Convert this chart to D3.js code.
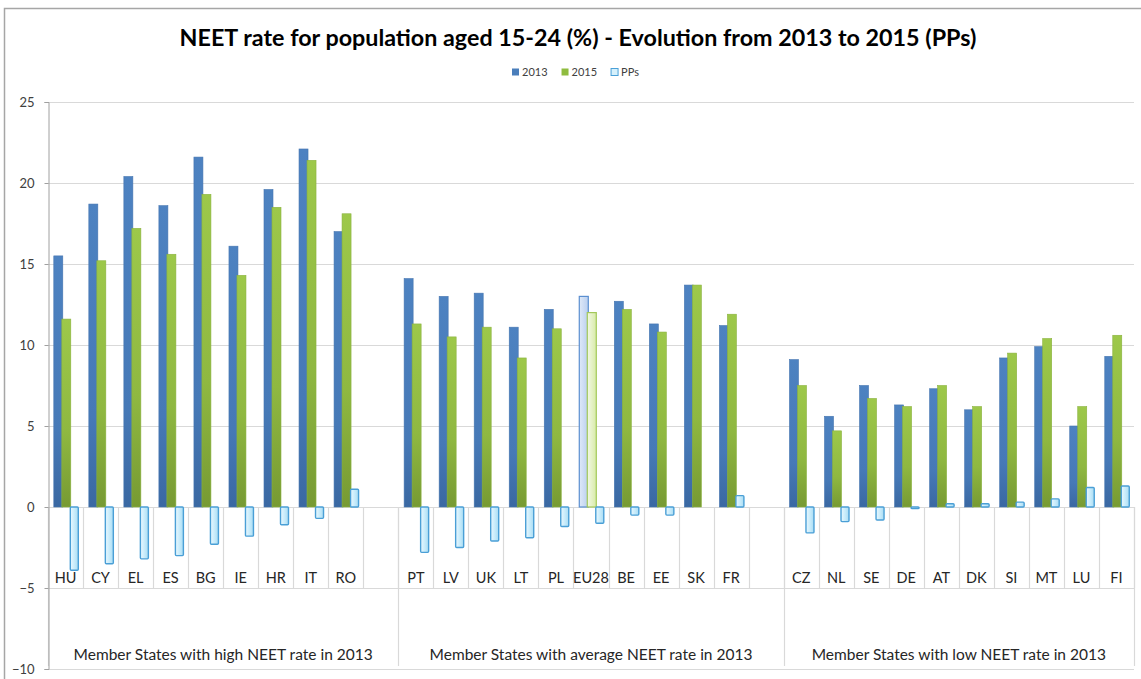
<!DOCTYPE html>
<html>
<head>
<meta charset="utf-8">
<script src="https://cdn.jsdelivr.net/npm/d3@7"></script>
<style>
  html, body { margin: 0; padding: 0; background: #fff; }
  svg { display: block; font-family: Lato, "Open Sans", sans-serif; }
</style>
</head>
<body>
<svg id="chart" width="1141" height="679"></svg>
<script>
// NEET rate (15-24) by Member State, 2013 vs 2015, with change in percentage points
const title = "NEET rate for population aged 15-24 (%) - Evolution from 2013 to 2015 (PPs)";
const seriesNames = ["2013", "2015", "PPs"];
const groupNames = [
  "Member States with high NEET rate in 2013",
  "Member States with average NEET rate in 2013",
  "Member States with low NEET rate in 2013"
];
const groupSizes = [9, 10, 10];
const countries = ["HU","CY","EL","ES","BG","IE","HR","IT","RO",
                   "PT","LV","UK","LT","PL","EU28","BE","EE","SK","FR",
                   "CZ","NL","SE","DE","AT","DK","SI","MT","LU","FI"];
const rate2013 = [15.5,18.7,20.4,18.6,21.6,16.1,19.6,22.1,17.0,
                  14.1,13.0,13.2,11.1,12.2,13.0,12.7,11.3,13.7,11.2,
                  9.1,5.6,7.5,6.3,7.3,6.0,9.2,9.9,5.0,9.3];
const rate2015 = [11.6,15.2,17.2,15.6,19.3,14.3,18.5,21.4,18.1,
                  11.3,10.5,11.1,9.2,11.0,12.0,12.2,10.8,13.7,11.9,
                  7.5,4.7,6.7,6.2,7.5,6.2,9.5,10.4,6.2,10.6];
const changePP = [-3.9,-3.5,-3.2,-3.0,-2.3,-1.8,-1.1,-0.7,1.1,
                  -2.8,-2.5,-2.1,-1.9,-1.2,-1.0,-0.5,-0.5,0.0,0.7,
                  -1.6,-0.9,-0.8,-0.1,0.2,0.2,0.3,0.5,1.2,1.3];
const yTicks = [-10, -5, 0, 5, 10, 15, 20, 25];
const highlight = "EU28";

const svg = d3.select("#chart");
const defs = svg.append("defs");

// Gradients giving the bars their shaded look
function vGrad(id, stops) {
  const g = defs.append("linearGradient").attr("id", id)
    .attr("x1", 0).attr("y1", 0).attr("x2", 0).attr("y2", 1);
  stops.forEach(s => g.append("stop").attr("offset", s[0]).attr("stop-color", s[1]));
}
function hGrad(id, stops) {
  const g = defs.append("linearGradient").attr("id", id)
    .attr("x1", 0).attr("y1", 0).attr("x2", 1).attr("y2", 0);
  stops.forEach(s => g.append("stop").attr("offset", s[0]).attr("stop-color", s[1]));
}
vGrad("g2013", [[0, "#4d82c1"], [0.7, "#4679b7"], [1, "#3a68a2"]]);
vGrad("g2015", [[0, "#9dc84a"], [0.6, "#8fb841"], [1, "#779a33"]]);
hGrad("gPP", [[0, "#eaf8fe"], [0.5, "#c9ecfb"], [1, "#a9dcf3"]]);
hGrad("g2013hl", [[0, "#dfe9f7"], [1, "#b9cff0"]]);
hGrad("g2015hl", [[0, "#f2f8e4"], [1, "#d8eba8"]]);

// Slots: countries per group, with an empty slot between groups
const slots = [];
let ci = 0;
groupSizes.forEach((n, gi) => {
  for (let k = 0; k < n; k++) { slots.push({ key: countries[ci], idx: ci, group: gi }); ci++; }
  if (gi < groupSizes.length - 1) slots.push({ key: "gap" + gi, idx: -1, group: gi });
});

const x = d3.scaleBand().domain(slots.map(s => s.key)).range([48, 1134]).padding(0);
const y = d3.scaleLinear().domain([-10, 25]).range([669, 102]);
const sub = d3.scaleBand().domain(seriesNames).range([5.8, 29.8]);
const barW = sub.bandwidth() + 1;
const gridColor = "#d9d9d9";

// Chart frame
svg.append("path").attr("d", "M4.5,690 V8.5 H1150")
  .attr("fill", "none").attr("stroke", "#a6a6a6").attr("stroke-width", 1.5);

// Title
const titleText = svg.append("text").attr("x", 578).attr("y", 46)
  .attr("text-anchor", "middle").attr("font-weight", "bold")
  .attr("font-size", 21).attr("fill", "#000").text(title);
const tl = titleText.node().getComputedTextLength();
titleText.attr("font-size", 21 * 797 / tl);

// Legend
const legendFill = { "2013": "#4a7ebb", "2015": "#8fbc3f", "PPs": "#d6f1fc" };
const legendStroke = { "2013": "none", "2015": "none", "PPs": "#4aa0d8" };
const legend = svg.append("g").attr("transform", "translate(512,73)");
let lx = 0;
seriesNames.forEach(name => {
  legend.append("rect").attr("x", lx).attr("y", -4.5).attr("width", 7).attr("height", 7)
    .attr("fill", legendFill[name]).attr("stroke", legendStroke[name]).attr("stroke-width", 1);
  const t = legend.append("text").attr("x", lx + 10).attr("y", 3)
    .attr("font-size", 11).attr("fill", "#404040").text(name);
  lx += 10 + t.node().getComputedTextLength() + 14;
});

// Horizontal gridlines
svg.append("g").selectAll("line").data(yTicks).join("line")
  .attr("x1", 48).attr("x2", 1134)
  .attr("y1", d => Math.round(y(d)) + 0.5).attr("y2", d => Math.round(y(d)) + 0.5)
  .attr("stroke", gridColor).attr("stroke-width", 1.2);

// Category separators (short) and group separators (full height)
const bounds = slots.map(s => x(s.key)).concat([1134]);
const groupBounds = [48];
slots.forEach((s, i) => {
  const next = slots[i + 1];
  if (!next || next.group !== s.group) groupBounds.push(x(s.key) + x.bandwidth());
});
svg.append("g").selectAll("line").data(bounds).join("line")
  .attr("x1", d => Math.round(d) + 0.5).attr("x2", d => Math.round(d) + 0.5)
  .attr("y1", y(0)).attr("y2", y(-5))
  .attr("stroke", gridColor).attr("stroke-width", 1.2);
svg.append("g").selectAll("line").data(groupBounds).join("line")
  .attr("x1", d => Math.round(d) + 0.5).attr("x2", d => Math.round(d) + 0.5)
  .attr("y1", y(0)).attr("y2", y(-10) - 3)
  .attr("stroke", gridColor).attr("stroke-width", 1.2);

// Value axis
const yAxis = svg.append("g").attr("transform", "translate(48.5,0)")
  .call(d3.axisLeft(y).tickValues(yTicks).tickSize(4).tickPadding(10).tickFormat(d3.format("d")));
yAxis.select(".domain").attr("stroke", "#a0a0a0");
yAxis.selectAll(".tick line").attr("stroke", "#a0a0a0");
yAxis.selectAll(".tick text").attr("font-size", 13).attr("fill", "#404040")
  .attr("font-family", "Lato, 'Open Sans', sans-serif");

// Bars
const countrySlots = slots.filter(s => s.idx >= 0);
const barsG = svg.append("g");
countrySlots.forEach(s => {
  const x0 = x(s.key);
  const hl = s.key === highlight;
  const v13 = rate2013[s.idx], v15 = rate2015[s.idx], pp = changePP[s.idx];
  barsG.append("rect")
    .attr("x", x0 + sub("2013")).attr("width", barW)
    .attr("y", y(v13)).attr("height", y(0) - y(v13))
    .attr("fill", hl ? "url(#g2013hl)" : "url(#g2013)")
    .attr("stroke", hl ? "#5b8fd0" : "#4575b0").attr("stroke-width", hl ? 1.2 : 0.6);
  barsG.append("rect")
    .attr("x", x0 + sub("2015")).attr("width", barW)
    .attr("y", y(v15)).attr("height", y(0) - y(v15))
    .attr("fill", hl ? "url(#g2015hl)" : "url(#g2015)")
    .attr("stroke", hl ? "#a3c85a" : "#8ab23f").attr("stroke-width", hl ? 1.2 : 0.6);
  if (pp !== 0) {
    barsG.append("rect")
      .attr("x", x0 + sub("PPs") + 0.5).attr("width", barW - 1)
      .attr("y", y(Math.max(0, pp))).attr("height", Math.abs(y(pp) - y(0)))
      .attr("rx", 1)
      .attr("fill", "url(#gPP)").attr("stroke", "#4a9fd6").attr("stroke-width", 1.4);
  }
});

// Category labels
svg.append("g").selectAll("text").data(countrySlots).join("text")
  .attr("x", d => x(d.key) + x.bandwidth() / 2).attr("y", 583)
  .attr("text-anchor", "middle").attr("font-size", 14.5).attr("fill", "#262626")
  .text(d => d.key);

// Group labels
svg.append("g").selectAll("text").data(groupNames).join("text")
  .attr("x", (d, i) => (groupBounds[i] + groupBounds[i + 1]) / 2).attr("y", 660)
  .attr("text-anchor", "middle").attr("font-size", 15.5).attr("fill", "#262626")
  .text(d => d);
</script>
</body>
</html>
